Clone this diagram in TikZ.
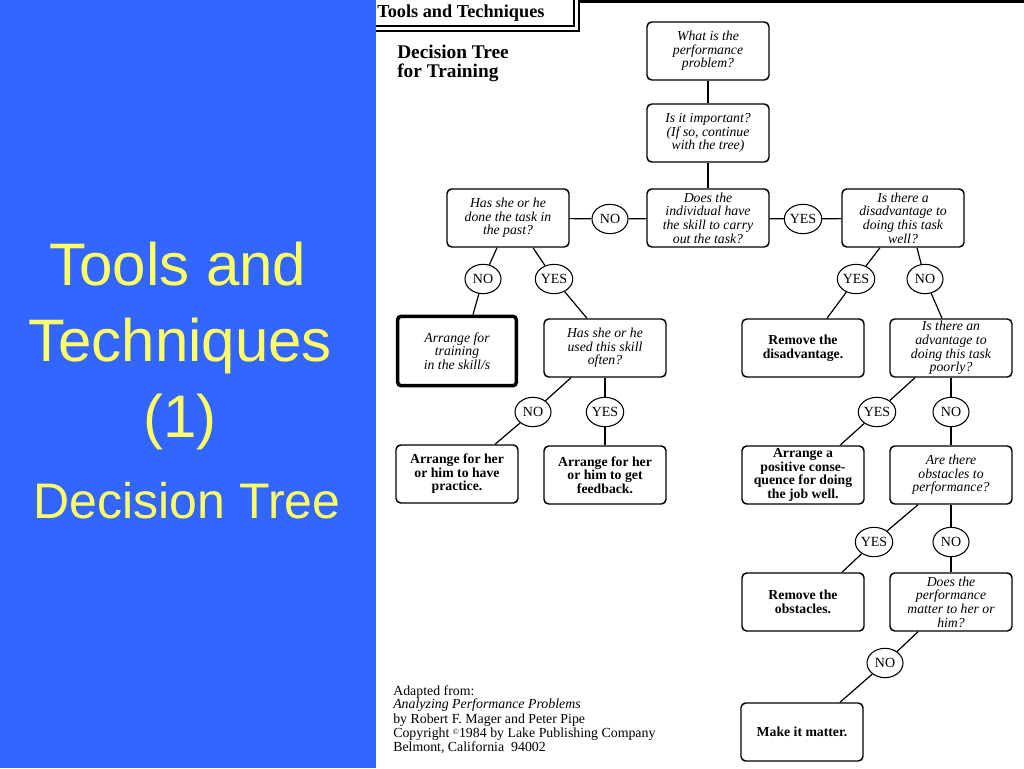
\documentclass[tikz,border=0pt]{standalone}
\usepackage{fontspec}
\setmainfont{Liberation Serif}
\newfontfamily\arialfont{Liberation Sans}
\usetikzlibrary{shapes.geometric}
\definecolor{panelblue}{RGB}{51,102,255}
\definecolor{titleyellow}{RGB}{255,255,102}
\begin{document}
\begin{tikzpicture}[x=0.75pt,y=-0.75pt,
  box/.style={draw, line width=1.1pt, rounded corners=3.5pt, minimum width=91.5pt, minimum height=43.5pt, inner sep=0.3pt, align=center},
  qbox/.style={box, font=\fontsize{10.3}{10.2}\selectfont\itshape},
  abox/.style={box, font=\fontsize{10.3}{10.2}\selectfont\bfseries},
  yn/.style={draw, ellipse, line width=0.8pt, minimum width=27pt, minimum height=22pt, inner sep=0pt, font=\fontsize{10.5}{11}\selectfont},
  link/.style={line width=0.9pt},
  title/.style={text=titleyellow, font=\arialfont\fontsize{45}{50}\selectfont, anchor=base, inner sep=0pt},
  src/.style={anchor=base west, inner sep=0pt, font=\fontsize{10.4}{11}\selectfont},
  hdr/.style={anchor=base west, inner sep=0pt, font=\fontsize{14.5}{16}\selectfont\bfseries},
]
\path[use as bounding box] (0,0) rectangle (1024,768);
\fill[white] (0,0) rectangle (1024,768);
\fill[panelblue] (0,0) rectangle (376,768);

% left panel title
\node[title] (t1) at (178,285) {Tools and};
\node[title] (t2) at (180,361) {Techniques};
\node[title] (t3) at (180,437) {(1)};
\node[title, font=\arialfont\fontsize{37.5}{40}\selectfont] (t4) at (187,518) {Decision Tree};

% header of the scanned page
\node[anchor=base west, inner sep=0pt, font=\fontsize{13.7}{15}\selectfont\bfseries] (hdr) at (377,17) {Tools and Techniques};
\draw[line width=0.9pt] (376,26) -- (574,26) -- (574,0);
\draw[line width=0.9pt] (376,31) -- (579,31) -- (579,0);
\draw[line width=2.2pt] (579,1.5) -- (1024,1.5);
\node[hdr] (sub1) at (397,58) {Decision Tree};
\node[hdr] (sub2) at (397,77) {for Training};

% source
\node[src] (s1) at (393,695) {Adapted from:};
\node[src, font=\fontsize{10.4}{11}\selectfont\itshape] (s2) at (393,708.5) {Analyzing Performance Problems};
\node[src] (s3) at (393,723) {by Robert F. Mager and Peter Pipe};
\node[src] (s4) at (393,737) {Copyright \raisebox{0.35ex}{\fontsize{6}{6}\selectfont\textcopyright}1984 by Lake Publishing Company};
\node[src] (s5) at (393,751) {Belmont, California\ \ 94002};

% main spine
\node[qbox] (q1) at (708,51) {What is the\\performance\\problem?};
\node[qbox] (q2) at (708,133) {Is it important?\\(If so, continue\\with the tree)};
\node[qbox] (q3) at (708,218) {Does the\\individual have\\the skill to carry\\out the task?};
\node[qbox] (hasdone) at (508,218) {Has she or he\\done the task in\\the past?};
\node[qbox] (disadv) at (903,218) {Is there a\\disadvantage to\\doing this task\\well?};
\node[yn] (noA) at (610,219) {NO};
\node[yn] (yesA) at (803,219) {YES};

% left branch
\node[yn] (no1) at (483,279) {NO};
\node[yn] (yes1) at (554,279) {YES};
\node[qbox, line width=2.6pt, minimum height=52pt, minimum width=89pt, rounded corners=2.5pt] (training) at (457,351) {Arrange for\\training\\in the skill/s};
\node[qbox] (usedoften) at (605,348) {Has she or he\\used this skill\\often?};
\node[yn] (no2) at (533,412) {NO};
\node[yn] (yes2) at (605,412) {YES};
\node[abox] (practice) at (457,474) {Arrange for her\\or him to have\\practice.};
\node[abox] (feedback) at (605,475) {Arrange for her\\or him to get\\feedback.};

% right branch
\node[yn] (yesB) at (856,279) {YES};
\node[yn] (noB) at (925,279) {NO};
\node[abox] (remdisadv) at (803,348) {Remove the\\disadvantage.};
\node[qbox] (advpoorly) at (951,348) {Is there an\\advantage to\\doing this task\\poorly?};
\node[yn] (yesC) at (877,412) {YES};
\node[yn] (noC) at (951,412) {NO};
\node[abox] (positive) at (803,475) {Arrange a\\positive conse-\\quence for doing\\the job well.};
\node[qbox] (obstacles) at (951,475) {Are there\\obstacles to\\performance?};
\node[yn] (yesD) at (874,542) {YES};
\node[yn] (noD) at (951,542) {NO};
\node[abox] (remobst) at (803,602) {Remove the\\obstacles.};
\node[qbox] (matter) at (951,602) {Does the\\performance\\matter to her or\\him?};
\node[yn] (noE) at (885,663) {NO};
\node[abox] (makeit) at (802,732) {Make it matter.};

% connectors
\draw[link] (q1) -- (q2);
\draw[link] (q2) -- (q3);
\draw[link] (q3) -- (noA);
\draw[link] (noA) -- (hasdone);
\draw[link] (q3) -- (yesA);
\draw[link] (yesA) -- (disadv);

\draw[link] ([xshift=-8.25pt]hasdone.south) -- (no1);
\draw[link] (no1) -- ([xshift=12pt]training.north);
\draw[link] ([xshift=18.75pt]hasdone.south) -- (yes1);
\draw[link] (yes1) -- ([xshift=-13.5pt]usedoften.north);
\draw[link] ([xshift=-25.5pt]usedoften.south) -- (no2);
\draw[link] (no2) -- ([xshift=28.5pt]practice.north);
\draw[link] (usedoften) -- (yes2);
\draw[link] (yes2) -- (feedback);

\draw[link] ([xshift=-17.25pt]disadv.south) -- (yesB);
\draw[link] (yesB) -- ([xshift=18pt]remdisadv.north);
\draw[link] ([xshift=10.5pt]disadv.south) -- (noB);
\draw[link] (noB) -- ([xshift=-6.75pt]advpoorly.north);
\draw[link] ([xshift=-27pt]advpoorly.south) -- (yesC);
\draw[link] (yesC) -- ([xshift=27.75pt]positive.north);
\draw[link] (advpoorly) -- (noC);
\draw[link] (noC) -- (obstacles);
\draw[link] ([xshift=-24.75pt]obstacles.south) -- (yesD);
\draw[link] (yesD) -- ([xshift=29.25pt]remobst.north);
\draw[link] (obstacles) -- (noD);
\draw[link] (noD) -- (matter);
\draw[link] ([xshift=-24.75pt]matter.south) -- (noE);
\draw[link] (noE) -- ([xshift=28.5pt]makeit.north);
\end{tikzpicture}
\end{document}
